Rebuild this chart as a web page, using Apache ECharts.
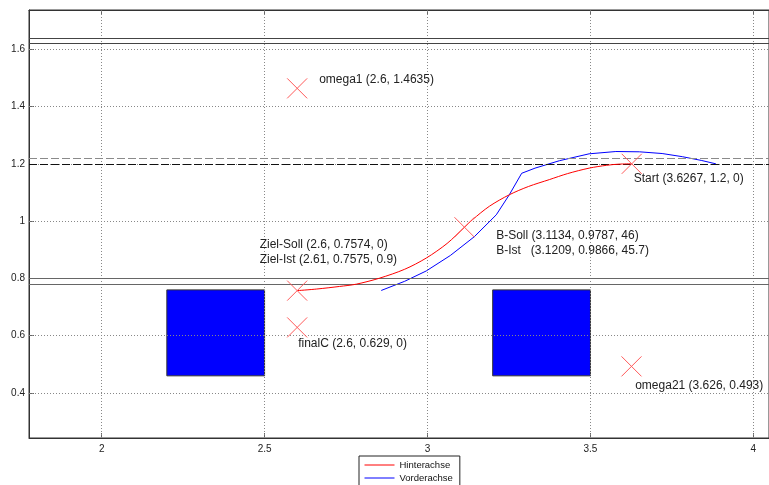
<!DOCTYPE html>
<html><head><meta charset="utf-8">
<script src="https://cdn.jsdelivr.net/npm/echarts@6/dist/echarts.min.js"></script>
<style>html,body{margin:0;padding:0;background:#fff}#c{width:769px;height:485px}</style>
</head><body><div id="c"></div>
<script>
// ---- data ----
const xTicks = [2, 2.5, 3, 3.5, 4];
const yTicks = [0.4, 0.6, 0.8, 1, 1.2, 1.4, 1.6];
const seriesNames = ['Hinterachse', 'Vorderachse'];
const hinterX = [2.6, 2.66, 2.73, 2.7815, 2.853, 2.93, 2.996, 3.06, 3.1134, 3.138, 3.19, 3.251, 3.31, 3.374, 3.43, 3.496, 3.55, 3.588, 3.6267];
const hinterY = [0.7574, 0.763, 0.772, 0.780, 0.801, 0.832, 0.871, 0.922, 0.9787, 1.005, 1.052, 1.092, 1.121, 1.145, 1.166, 1.185, 1.195, 1.199, 1.2];
const vorderX = [2.858, 2.93, 2.996, 3.07, 3.144, 3.211, 3.251, 3.289, 3.33, 3.405, 3.496, 3.578, 3.65, 3.72, 3.782, 3.84, 3.885];
const vorderY = [0.758, 0.79, 0.826, 0.88, 0.946, 1.022, 1.092, 1.167, 1.185, 1.211, 1.235, 1.243, 1.242, 1.236, 1.225, 1.212, 1.2];
const markerX = [2.6, 2.6, 2.6, 3.1134, 3.6267, 3.626];
const markerY = [1.4635, 0.7574, 0.629, 0.9787, 1.2, 0.493];
const markerLabels = [
  'omega1 (2.6, 1.4635)',
  'Ziel-Soll (2.6, 0.7574, 0)\nZiel-Ist (2.61, 0.7575, 0.9)',
  'finalC (2.6, 0.629, 0)',
  'B-Soll (3.1134, 0.9787, 46)\nB-Ist   (3.1209, 0.9866, 45.7)',
  'Start (3.6267, 1.2, 0)',
  'omega21 (3.626, 0.493)'
];
const obstacleX0 = [2.2, 3.2];
const obstacleX1 = [2.5, 3.5];
const obstacleY0 = [0.46, 0.46];
const obstacleY1 = [0.76, 0.76];
const refLinesY = [1.638, 1.618, 1.2185, 1.2, 0.8, 0.779];

// ---- styles (not data) ----
const labelOffsets = [[24.5, -6.5], [-35, -36], [3.5, 18.6], [34.2, 18.3], [4.5, 17.3], [6.2, 22.3]];
const refLineStyles = [
  {color: '#444', type: 'solid'}, {color: '#444', type: 'solid'},
  {color: '#8a8a8a', type: [8, 3]}, {color: '#111', type: [8, 3]},
  {color: '#666', type: 'solid'}, {color: '#666', type: 'solid'}
];
const MS = 20;
const font = '"Liberation Sans", Arial, Helvetica, sans-serif';

const chart = echarts.init(document.getElementById('c'), null, {renderer: 'canvas'});

const zip = (xs, ys) => xs.map((x, i) => [x, ys[i]]);

const gridLineData = [
  ...xTicks.map(v => ({xAxis: v})),
  ...yTicks.map(v => ({yAxis: v}))
];
const refLineData = refLinesY.map((v, i) => ({yAxis: v, lineStyle: Object.assign({width: 1}, refLineStyles[i])}));

const markerData = markerX.map((x, i) => ({
  value: [x, markerY[i]],
  label: {
    show: true,
    formatter: markerLabels[i],
    position: [labelOffsets[i][0] + MS / 2, labelOffsets[i][1] + MS / 2],
    align: 'left',
    verticalAlign: 'middle'
  }
}));

const obstacleData = obstacleX0.map((x0, i) => [x0, obstacleY0[i], obstacleX1[i], obstacleY1[i]]);

const axisCommon = {
  type: 'value',
  splitLine: {show: false},
  axisLine: {show: true, lineStyle: {color: '#333', width: 1}},
  axisTick: {show: true, inside: true, length: 5, lineStyle: {color: '#666'}},
};

chart.setOption({
  animation: false,
  backgroundColor: '#fff',
  textStyle: {fontFamily: font},
  grid: {left: 29, right: -1, top: 10, bottom: 47, show: true, borderColor: '#333', borderWidth: 1, backgroundColor: 'transparent'},
  legend: {
    data: seriesNames,
    orient: 'vertical',
    left: 359, top: 456,
    height: 60,
    padding: [4, 7, 3, 5],
    itemGap: 3,
    itemWidth: 30, itemHeight: 11,
    itemStyle: {color: 'rgba(0,0,0,0)', borderWidth: 0, opacity: 0},
    lineStyle: {width: 1},
    backgroundColor: '#fff',
    borderColor: '#222', borderWidth: 1, borderRadius: 0,
    textStyle: {fontSize: 9.5, color: '#111', fontFamily: font}
  },
  xAxis: [
    Object.assign({}, axisCommon, {
      min: 1.777, max: 4.048, position: 'bottom',
      axisTick: Object.assign({}, axisCommon.axisTick, {customValues: xTicks}),
      axisLabel: {customValues: xTicks, fontSize: 10, color: '#222', margin: 6, fontFamily: font}
    }),
    Object.assign({}, axisCommon, {
      min: 1.777, max: 4.048, position: 'top',
      axisTick: Object.assign({}, axisCommon.axisTick, {customValues: xTicks}),
      axisLabel: {show: false, customValues: xTicks}
    })
  ],
  yAxis: Object.assign({}, axisCommon, {
    min: 0.243, max: 1.737,
    axisTick: Object.assign({}, axisCommon.axisTick, {customValues: yTicks}),
    axisLabel: {customValues: yTicks, fontSize: 10, color: '#222', margin: 4, fontFamily: font}
  }),
  series: [
    {
      type: 'line', name: '_grid', data: [], silent: true,
      markLine: {
        silent: true, symbol: ['none', 'none'], label: {show: false},
        lineStyle: {color: '#888', type: [1, 2], width: 1},
        data: gridLineData, animation: false
      }
    },
    {
      type: 'custom', name: '_obstacles', silent: true,
      data: obstacleData,
      renderItem: function (params, api) {
        const p0 = api.coord([api.value(0), api.value(3)]);
        const p1 = api.coord([api.value(2), api.value(1)]);
        return {
          type: 'rect',
          shape: {x: p0[0], y: p0[1], width: p1[0] - p0[0], height: p1[1] - p0[1]},
          style: {fill: '#0000ff', stroke: '#333', lineWidth: 1}
        };
      },
      encode: {x: [0, 2], y: [1, 3]}
    },
    {
      type: 'line', name: '_ref', data: [], silent: true,
      markLine: {
        silent: true, symbol: ['none', 'none'], label: {show: false},
        data: refLineData, animation: false
      }
    },
    {
      type: 'line', name: seriesNames[0],
      data: zip(hinterX, hinterY),
      symbol: 'none', smooth: 0.3,
      lineStyle: {color: '#ff0000', width: 1},
      itemStyle: {color: '#ff0000'}, z: 5
    },
    {
      type: 'line', name: seriesNames[1],
      data: zip(vorderX, vorderY),
      symbol: 'none', smooth: false,
      lineStyle: {color: '#0000ff', width: 1},
      itemStyle: {color: '#0000ff'}, z: 4
    },
    {
      type: 'scatter', name: '_markers',
      data: markerData,
      symbol: 'path://M0,0L20,20M20,0L0,20',
      symbolSize: MS,
      itemStyle: {color: 'none', borderColor: '#ff5a5a', borderWidth: 1, opacity: 1},
      label: {color: '#222', fontSize: 12, lineHeight: 15, fontFamily: font},
      z: 6
    }
  ]
});
</script>
</body></html>
